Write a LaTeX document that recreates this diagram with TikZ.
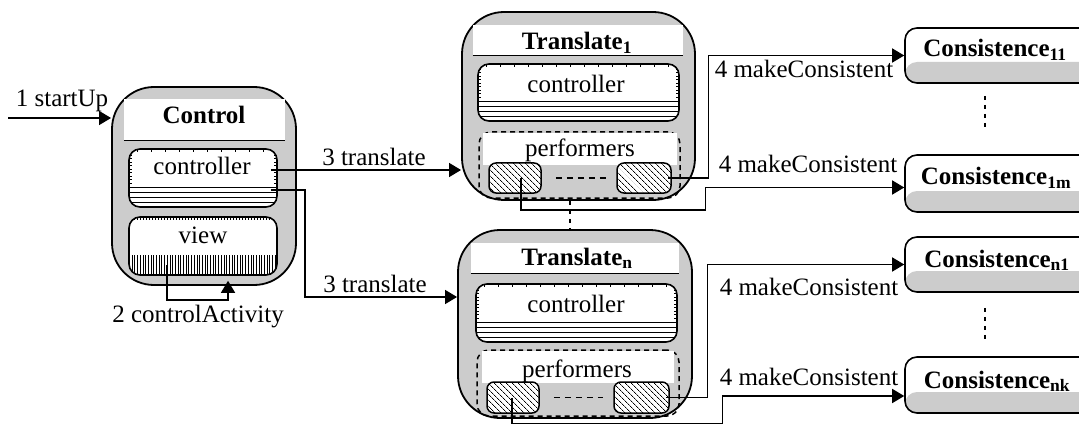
\documentclass[tikz,border=0pt]{standalone}
\usepackage{fontspec}
\setmainfont{Liberation Serif}
\usetikzlibrary{arrows.meta,patterns.meta,calc}
\definecolor{boxgray}{RGB}{204,204,204}
\newcommand\fsz{\fontsize{25}{30}\selectfont}
\tikzset{
  lbl/.style={font=\fsz, inner sep=0pt, anchor=base},
  ttl/.style={font=\fsz\bfseries, inner sep=0pt, anchor=base},
  outerbox/.style={draw, line width=1.8pt, fill=boxgray, rounded corners=42pt, inner sep=0pt},
  titleband/.style={fill=white, inner sep=0pt},
  bandline/.style={line width=1.3pt},
  ctrlbox/.style={draw, line width=1.6pt, fill=white, rounded corners=11pt, inner sep=0pt,
    path picture={
      \foreach \d in {5,10,15,20}
        \draw[line width=0.9pt] ([yshift=\d pt]path picture bounding box.south west)
          -- ([yshift=\d pt]path picture bounding box.south east);
      \foreach \d in {24,27.5,...,56}{
        \draw[line width=0.5pt] ([yshift=\d pt]path picture bounding box.south west) -- ++(3pt,0pt);
        \draw[line width=0.5pt] ([yshift=\d pt]path picture bounding box.south east) -- ++(-3pt,0pt);}
      \foreach \d in {8,22,...,210}
        \draw[line width=0.5pt] ([xshift=\d pt]path picture bounding box.north west) -- ++(0pt,-3pt);
    }},
  viewbox/.style={draw, line width=1.6pt, fill=white, rounded corners=11pt, inner sep=0pt,
    path picture={
      \foreach \d in {3,5.7,...,150}
        \draw[line width=0.5pt] ([xshift=\d pt]path picture bounding box.south west) -- ++(0pt,20pt);
      \foreach \d in {2,5,...,150}
        \draw[line width=0.5pt] ([xshift=\d pt]path picture bounding box.north west) -- ++(0pt,-2.5pt);
    }},
  perfbox/.style={draw, line width=1.5pt, dash pattern=on 5pt off 4pt, rounded corners=12pt, inner sep=0pt},
  hatchbox/.style={draw, line width=1.5pt, rounded corners=7pt, inner sep=0pt, fill=white,
    postaction={pattern={Lines[angle=-45,distance=4pt,line width=0.8pt]}}},
  consbox/.style={draw, line width=1.6pt, fill=white, rounded corners=12pt, inner sep=0pt,
    minimum width=190pt,
    path picture={\fill[boxgray] (path picture bounding box.south west)
      rectangle ([yshift=21pt]path picture bounding box.south east);}},
  conn/.style={line width=1.4pt},
  arr/.style={conn, -{Triangle[length=12pt,width=14pt]}},
  gap/.style={line width=1.5pt, dash pattern=on 6pt off 5pt},
  dots/.style={line width=1.8pt, dash pattern=on 4pt off 5pt},
}
\begin{document}
\begin{tikzpicture}[x=1pt,y=-1pt]
\useasboundingbox (0,0) rectangle (1079,433);
\clip (0,0) rectangle (1079,433);

% ---- Control component
\node[outerbox, minimum width=184pt, minimum height=198pt] (ctl) at (204,186) {};
\node[titleband, minimum width=161pt, minimum height=41pt] (ctlband) at (204.5,119.5) {};
\draw[bandline] (ctlband.south west) -- (ctlband.south east);
\node[ctrlbox, minimum width=148pt, minimum height=58pt] (cctrl) at (203,178) {};
\node[viewbox, minimum width=148pt, minimum height=58pt] (cview) at (203,246) {};
\node[ttl] (ctl-t) at (204,124) {Control};
\node[lbl] (cctrl-t) at (202,175) {controller};
\node[lbl] (cview-t) at (203,243) {view};

% ---- Translate_1 component
\node[outerbox, minimum width=233pt, minimum height=188pt] (t1) at (578.5,106) {};
\node[titleband, minimum width=210pt, minimum height=30pt] (t1band) at (578,40) {};
\draw[bandline] (t1band.south west) -- (t1band.south east);
\node[ctrlbox, minimum width=201pt, minimum height=57pt] (t1c) at (578.5,92.5) {};
\node[perfbox, minimum width=201pt, minimum height=66pt] (t1p) at (579.5,165) {};
\node[titleband, minimum width=194pt, minimum height=32pt] (t1pband) at (580,149) {};
\node[hatchbox, minimum width=52pt, minimum height=30pt] (t1a) at (515,178) {};
\node[hatchbox, minimum width=54pt, minimum height=30pt] (t1b) at (644,178) {};
\draw[gap, shorten <=14pt, shorten >=10pt] (t1a) -- (t1b);
\node[ttl] (t1-t) at (577,50) {Translate\textsubscript{1}};
\node[lbl] (t1c-t) at (576,93) {controller};
\node[lbl] (t1p-t) at (580,157) {performers};

% ---- Translate_n component
\node[outerbox, minimum width=234pt, minimum height=188pt] (tn) at (575,324) {};
\node[titleband, minimum width=208pt, minimum height=30pt] (tnband) at (575,258) {};
\draw[bandline] (tnband.south west) -- (tnband.south east);
\node[ctrlbox, minimum width=201pt, minimum height=58pt] (tnc) at (576.5,313) {};
\node[perfbox, minimum width=202pt, minimum height=66pt] (tnp) at (578,383) {};
\node[titleband, minimum width=192pt, minimum height=32pt] (tnpband) at (578,367) {};
\node[hatchbox, minimum width=52pt, minimum height=31pt] (tna) at (513,397.5) {};
\node[hatchbox, minimum width=55pt, minimum height=31pt] (tnb) at (641.5,397.5) {};
\draw[gap, shorten <=14pt, shorten >=10pt] (tna) -- (tnb);
\node[ttl] (tn-t) at (577,265) {Translate\textsubscript{n}};
\node[lbl] (tnc-t) at (576,312) {controller};
\node[lbl] (tnp-t) at (577,377) {performers};

\draw[dots] ([xshift=-8.5pt]t1.south) -- ([xshift=-5pt]tn.north);

% ---- Consistence components
\node[consbox, minimum height=55pt] (c11) at (1000,55.5) {};
\node[consbox, minimum height=57pt] (c1m) at (1000,183.5) {};
\node[consbox, minimum height=55pt] (cn1) at (1000,264.5) {};
\node[consbox, minimum height=56pt] (cnk) at (1000,385) {};
\node[ttl] (c11-t) at (995,57) {Consistence\textsubscript{11}};
\node[ttl] (c1m-t) at (996,185) {Consistence\textsubscript{1m}};
\node[ttl] (cn1-t) at (997,267) {Consistence\textsubscript{n1}};
\node[ttl] (cnk-t) at (997,388) {Consistence\textsubscript{nk}};
\draw[dots] ([xshift=-15pt,yshift=-12pt]c11.south) -- ([xshift=-15pt,yshift=23pt]c1m.north);
\draw[dots] ([xshift=-15pt,yshift=-15pt]cn1.south) -- ([xshift=-15pt,yshift=14pt]cnk.north);

% ---- messages
\coordinate (su) at (8,118);
\draw[arr] (su) -- (su -| ctl.west);
\node[lbl] (su-t) at (62,107) {1 startUp};

\draw[arr] ([xshift=-36pt,yshift=-19pt]cview.center) -- ++(0,35)
  -| ([xshift=25pt,yshift=-5pt]cview.south);
\node[lbl] (ca-t) at (198,322) {2 controlActivity};

\coordinate (tr1) at ([xshift=-7pt,yshift=8pt]cctrl.east);
\draw[arr] (tr1) -- (tr1 -| t1.west);
\node[lbl] (tr1-t) at (374,165) {3 translate};
\draw[arr] ([xshift=-7pt,yshift=-12pt]cctrl.east) -- ++(34,0) |- ([yshift=27pt]tn.west);
\node[lbl] (trn-t) at (375,292) {3 translate};

\draw[arr] ([xshift=-4pt]t1b.east) -- ++(41,0) |- (c11.west);
\node[lbl] (mc1-t) at (804,78) {4 makeConsistent};
\draw[arr] ([xshift=6pt]t1a.center) -- ++(0,32)
  -| ([xshift=-199pt,yshift=-4pt]c1m.west) -- ([yshift=-4pt]c1m.west);
\node[lbl] (mc2-t) at (808,172) {4 makeConsistent};
\draw[arr] ([xshift=-4pt]tnb.east) -- ++(42,0) |- (cn1.west);
\node[lbl] (mc3-t) at (809,295) {4 makeConsistent};
\draw[arr] ([xshift=-1pt]tna.center) -- ++(0,26)
  -| ([xshift=-182pt,yshift=-11pt]cnk.west) -- ([yshift=-11pt]cnk.west);
\node[lbl] (mc4-t) at (809,385) {4 makeConsistent};
\end{tikzpicture}
\end{document}
